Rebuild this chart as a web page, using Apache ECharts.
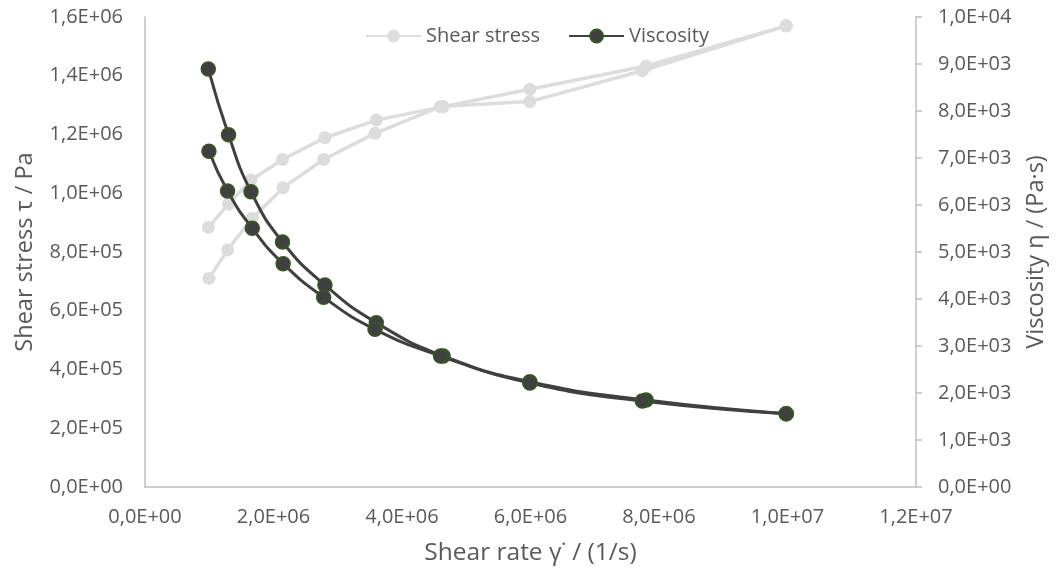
<!DOCTYPE html>
<html>
<head>
<meta charset="utf-8">
<script src="https://cdn.jsdelivr.net/npm/echarts@6/dist/echarts.min.js"></script>
<style>html,body{margin:0;padding:0;background:#fff;}#c{width:1061px;height:572px;}</style>
</head>
<body>
<div id="c"></div>
<script>
// Sweep A (upper curves) and sweep B (lower curves)
const rateA = [0.985e6, 1.30e6, 1.65e6, 2.14e6, 2.80e6, 3.60e6, 4.64e6, 5.99e6, 7.80e6, 9.98e6];
const rateB = [0.995e6, 1.285e6, 1.67e6, 2.15e6, 2.78e6, 3.58e6, 4.60e6, 5.99e6, 7.74e6, 9.98e6];
const stressA = [884000, 963000, 1045000, 1115000, 1189000, 1249000, 1295000, 1354000, 1433000, 1570000];
const stressB = [710000, 807000, 915000, 1019000, 1115000, 1204000, 1295000, 1312000, 1417000, 1570000];
const viscA = [8894, 7496, 6283, 5213, 4298, 3496, 2787, 2240, 1851, 1560];
const viscB = [7143, 6298, 5504, 4751, 4038, 3355, 2787, 2213, 1830, 1560];
const seriesNames = ['Shear stress', 'Viscosity'];
const axisNames = ['Shear rate γ˙ / (1/s)', 'Shear stress τ / Pa', 'Viscosity η / (Pa·s)'];

function sci(v) {
  if (v === 0) return '0,0E+00';
  const e = Math.floor(Math.log10(Math.abs(v)) + 1e-9);
  const m = v / Math.pow(10, e);
  return m.toFixed(1).replace('.', ',') + 'E' + (e < 0 ? '-' : '+') + String(Math.abs(e)).padStart(2, '0');
}
function pairs(xs, ys) { return xs.map((x, i) => [x, ys[i]]); }

const FONT = 'Open Sans';
const TXT = '#595959';
const AX = '#BFBFBF';
const stressStyle = {
  type: 'line', yAxisIndex: 0, smooth: false, symbol: 'circle', symbolSize: 13,
  lineStyle: { color: '#DCDCDC', width: 3.5 },
  itemStyle: { color: '#DCDCDC', borderColor: '#DCDCDC', borderWidth: 0 },
  z: 2
};
const viscStyle = {
  type: 'line', yAxisIndex: 1, smooth: 0.5, symbol: 'circle', symbolSize: 14,
  lineStyle: { color: '#404040', width: 3 },
  itemStyle: { color: '#404040', borderColor: '#375623', borderWidth: 1.5 },
  z: 3
};

const chart = echarts.init(document.getElementById('c'), null, { renderer: 'canvas' });
chart.setOption({
  animation: false,
  textStyle: { fontFamily: FONT, color: TXT },
  grid: { left: 145, right: 145, top: 17, bottom: 85 },
  legend: {
    data: seriesNames, top: 21, left: 360, itemWidth: 55, itemHeight: 16, itemGap: 28,
    textStyle: { fontFamily: FONT, fontSize: 20, color: TXT }
  },
  xAxis: {
    type: 'value', min: 0, max: 1.2e7, interval: 2e6,
    name: axisNames[0], nameLocation: 'middle', nameGap: 54,
    nameTextStyle: { fontFamily: FONT, fontSize: 24.5, color: TXT },
    axisLine: { show: true, lineStyle: { color: AX, width: 1.5 } },
    axisTick: { show: false },
    splitLine: { show: false },
    axisLabel: { formatter: sci, fontFamily: FONT, fontSize: 20, color: TXT, margin: 20 }
  },
  yAxis: [
    {
      type: 'value', min: 0, max: 1.6e6, interval: 2e5, position: 'left',
      name: axisNames[1], nameLocation: 'middle', nameGap: 108, nameRotate: 90,
      nameTextStyle: { fontFamily: FONT, fontSize: 23.5, color: TXT },
      axisLine: { show: true, lineStyle: { color: AX, width: 1.5 } },
      axisTick: { show: false },
      splitLine: { show: false },
      axisLabel: { formatter: sci, fontFamily: FONT, fontSize: 20, color: TXT, margin: 22 }
    },
    {
      type: 'value', min: 0, max: 1e4, interval: 1000, position: 'right',
      name: axisNames[2], nameLocation: 'middle', nameGap: 108, nameRotate: 90,
      nameTextStyle: { fontFamily: FONT, fontSize: 23.5, color: TXT },
      axisLine: { show: true, lineStyle: { color: AX, width: 1.5 } },
      axisTick: { show: true, inside: false, length: 6, lineStyle: { color: AX, width: 1.5 } },
      splitLine: { show: false },
      axisLabel: { formatter: sci, fontFamily: FONT, fontSize: 20, color: TXT, margin: 22 }
    }
  ],
  series: [
    Object.assign({ name: seriesNames[0], data: pairs(rateA, stressA) }, stressStyle),
    Object.assign({ name: seriesNames[0], data: pairs(rateB, stressB) }, stressStyle),
    Object.assign({ name: seriesNames[1], data: pairs(rateA, viscA) }, viscStyle),
    Object.assign({ name: seriesNames[1], data: pairs(rateB, viscB) }, viscStyle)
  ]
});
</script>
</body>
</html>
